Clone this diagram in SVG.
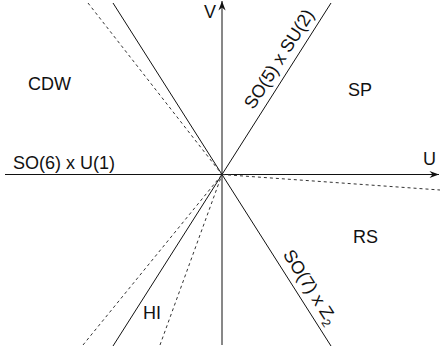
<svg xmlns="http://www.w3.org/2000/svg" width="440" height="357" viewBox="0 0 440 357">
  <style>
    .lbl { font-family: "Liberation Sans", Arial, sans-serif; font-size: 18px; fill: #111; }
    .solid { stroke: #111; stroke-width: 1; fill: none; }
    .dash { stroke: #333; stroke-width: 1; stroke-dasharray: 3 3; fill: none; }
    .axis { stroke: #111; stroke-width: 1; fill: none; }
  </style>
  <defs>
    <marker id="arr" markerUnits="userSpaceOnUse" markerWidth="12" markerHeight="10" viewBox="-10 -5 12 10" refX="0" refY="0" orient="auto">
      <path d="M0,0 L-9.5,-3.6 L-6.5,0 L-9.5,3.6 Z" fill="#111"/>
    </marker>
  </defs>
  <rect width="440" height="357" fill="#fff"/>
  <g id="connectors">
    <line id="u-axis" class="axis" x1="5" y1="174.5" x2="439" y2="174.5" marker-end="url(#arr)"/>
    <line id="v-axis" class="axis" x1="222" y1="345" x2="222" y2="1" marker-end="url(#arr)"/>
    <line class="solid" x1="113" y1="3" x2="331" y2="346"/>
    <line class="solid" x1="331" y1="3" x2="113" y2="346"/>
    <line class="dash" x1="88" y1="3" x2="222" y2="174.5"/>
    <line class="dash" x1="222" y1="174.5" x2="440" y2="190"/>
    <line class="dash" x1="83" y1="345" x2="222" y2="174.5"/>
    <line class="dash" x1="160" y1="345" x2="222" y2="174.5"/>
  </g>
  <g id="label-V"><text class="lbl" x="204" y="18">V</text></g>
  <g id="label-U"><text class="lbl" x="423" y="165">U</text></g>
  <g id="region-CDW"><text class="lbl" x="28" y="90">CDW</text></g>
  <g id="region-SP"><text class="lbl" x="348" y="96">SP</text></g>
  <g id="region-RS"><text class="lbl" x="353" y="243">RS</text></g>
  <g id="region-HI"><text class="lbl" x="143" y="319">HI</text></g>
  <g id="line-SO6U1"><text class="lbl" x="13" y="169">SO(6) x U(1)</text></g>
  <g id="line-SO5SU2"><text class="lbl" transform="translate(222,174.5) rotate(-57.48)" x="71" y="-8">SO(5) x SU(2)</text></g>
  <g id="line-SO7Z2"><text class="lbl" transform="translate(222,174.5) rotate(57.48)" x="100" y="-8">SO(7) x Z<tspan font-size="12" dy="4">2</tspan></text></g>
</svg>
